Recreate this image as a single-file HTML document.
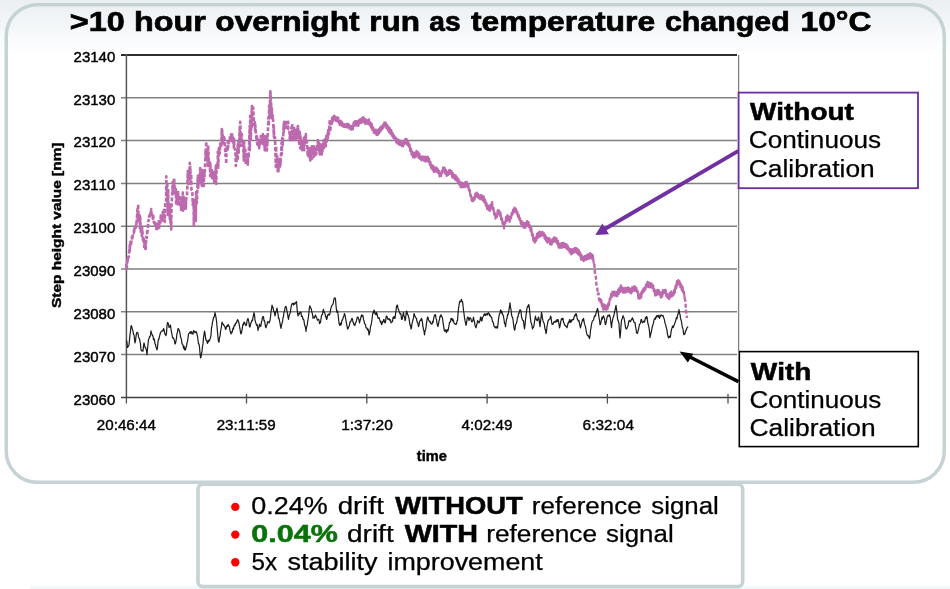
<!DOCTYPE html>
<html><head><meta charset="utf-8">
<style>
html,body{margin:0;padding:0;}
body{width:950px;height:589px;overflow:hidden;position:relative;background:#fff;}
svg{position:absolute;left:0;top:0;will-change:transform;}
text{font-family:"Liberation Sans",sans-serif;font-kerning:none;}
</style></head><body>
<svg width="950" height="589" viewBox="0 0 950 589">
<defs>
<linearGradient id="bg" x1="0" y1="0" x2="0" y2="1">
<stop offset="0" stop-color="#eaeff2"/>
<stop offset="0.45" stop-color="#f3f6f8"/>
<stop offset="1" stop-color="#ffffff"/>
</linearGradient>
</defs>
<rect x="0" y="0" width="950" height="589" fill="#fff"/>
<rect x="0" y="0" width="950" height="54" fill="url(#bg)"/>
<rect x="30" y="585.5" width="920" height="3.5" fill="#f2f9fb"/>
<!-- main rounded box -->
<rect x="6.25" y="4.75" width="938" height="477.5" rx="31" ry="31" fill="none" stroke="#c6d3d5" stroke-width="3.5"/>
<!-- bottom box -->
<rect x="198" y="484.1" width="544.7" height="102.5" rx="5" ry="5" fill="#fff" stroke="#c6d3d5" stroke-width="3.6"/>

<!-- title -->
<text x="69.74" y="31.40" font-size="28" font-weight="bold" textLength="54.92" lengthAdjust="spacingAndGlyphs" stroke="#000" stroke-width="0.7">&gt;10</text>
<text x="133.95" y="31.40" font-size="28" font-weight="bold" textLength="71.84" lengthAdjust="spacingAndGlyphs" stroke="#000" stroke-width="0.7">hour</text>
<text x="215.37" y="31.40" font-size="28" font-weight="bold" textLength="144.20" lengthAdjust="spacingAndGlyphs" stroke="#000" stroke-width="0.7">overnight</text>
<text x="369.28" y="31.40" font-size="28" font-weight="bold" textLength="50.66" lengthAdjust="spacingAndGlyphs" stroke="#000" stroke-width="0.7">run</text>
<text x="429.30" y="31.40" font-size="28" font-weight="bold" textLength="31.27" lengthAdjust="spacingAndGlyphs" stroke="#000" stroke-width="0.7">as</text>
<text x="471.00" y="31.40" font-size="28" font-weight="bold" textLength="184.15" lengthAdjust="spacingAndGlyphs" stroke="#000" stroke-width="0.7">temperature</text>
<text x="664.92" y="31.40" font-size="28" font-weight="bold" textLength="124.88" lengthAdjust="spacingAndGlyphs" stroke="#000" stroke-width="0.7">changed</text>
<text x="800.57" y="31.40" font-size="28" font-weight="bold" textLength="70.88" lengthAdjust="spacingAndGlyphs" stroke="#000" stroke-width="0.7">10°C</text>

<!-- plot area -->
<rect x="126.5" y="55" width="612" height="342.4" fill="#fff"/>
<g stroke="#808080" stroke-width="1.5" fill="none">
<path d="M121 97.8H737 M121 140.6H737 M121 183.4H737 M121 226.2H737 M121 269H737 M121 311.8H737 M121 354.6H737"/>
</g>
<path d="M738.6 55V351" stroke="#808080" stroke-width="1.3" fill="none"/>
<path d="M121 55H737" stroke="#2e2e2e" stroke-width="2" fill="none"/>
<path d="M126.4 54V397.5" stroke="#555" stroke-width="1.5" fill="none"/>
<path d="M121 397.5H737" stroke="#404040" stroke-width="1.5" fill="none"/>
<path d="M126.4 397.5V403.6 M246.5 394V403.6 M366.8 394V403.6 M487.1 394V403.6 M607.4 394V403.6 M728 394V403.6" stroke="#505050" stroke-width="1.3" fill="none"/>

<!-- y labels -->
<g font-size="15" fill="#000" text-anchor="end" stroke="#000" stroke-width="0.45">
<text x="115.3" y="61.6">23140</text>
<text x="115.3" y="104.5">23130</text>
<text x="115.3" y="147.4">23120</text>
<text x="115.3" y="190.4">23110</text>
<text x="115.3" y="233.3">23100</text>
<text x="115.3" y="276.3">23090</text>
<text x="115.3" y="319.3">23080</text>
<text x="115.3" y="362.2">23070</text>
<text x="115.3" y="405.2">23060</text>
</g>
<!-- x labels -->
<g fill="#000" stroke="#000" stroke-width="0.4">
<text x="96.80" y="429.60" font-size="15" textLength="59.05" lengthAdjust="spacingAndGlyphs">20:46:44</text>
<text x="216.70" y="429.60" font-size="15" textLength="58.95" lengthAdjust="spacingAndGlyphs">23:11:59</text>
<text x="341.17" y="429.60" font-size="15" textLength="51.69" lengthAdjust="spacingAndGlyphs">1:37:20</text>
<text x="461.60" y="429.60" font-size="15" textLength="50.85" lengthAdjust="spacingAndGlyphs">4:02:49</text>
<text x="582.60" y="429.60" font-size="15" textLength="51.35" lengthAdjust="spacingAndGlyphs">6:32:04</text>
<text x="416.80" y="460.50" font-size="14.5" font-weight="bold" textLength="30.06" lengthAdjust="spacingAndGlyphs">time</text>
<g transform="translate(60.7 0) rotate(-90)"><text x="-308.00" y="0.00" font-size="12.5" font-weight="bold" textLength="165.50" lengthAdjust="spacingAndGlyphs">Step height value [nm]</text></g>
</g>

<!-- series -->
<path d="M126.3 263.7 L126.7 269.5 L127.6 257.7 L127.8 261.5 L128.2 254.8 L128.7 257.5 L129.8 244.8 L129.8 250.9 L130.2 242.1 L130.9 245.8 L131.8 237.1 L132.2 239.9 L133.1 232.7 L133.8 232.9 L134.2 228.1 L134.2 231.9 L135.3 224.7 L135.8 227.6 L136.2 222.7 L136.4 225.5 L137.5 208.9 L137.8 221.9 L138.2 204.1 L138.6 222 L139.7 215.4 L139.8 227.9 L140.2 217.1 L140.8 231.7 L141.9 228.6 L141.8 237.9 L142.2 228.1 L143 240.5 L143.8 238.7 L144.2 246.9 L144.1 239.2 L145.2 248.9 L145.3 242.1 L145.7 249.9 L146.3 236.9 L146.8 237.9 L147.2 230.1 L147.4 232.7 L148.5 220 L148.8 220.5 L149.2 215.6 L149.6 218.3 L150.7 211.5 L150.8 214.9 L151.2 209.1 L151.8 216.4 L152.9 216 L152.8 218.9 L153.2 215.6 L154 222.9 L154.8 221.1 L155.2 227.6 L155.1 221.5 L156.2 229 L156.8 224.5 L157.2 230.3 L157.3 224.4 L158.4 227.1 L158.8 221.1 L159.2 227.6 L159.5 220 L160.6 222.4 L160.8 215.6 L161.2 222.3 L161.7 215.5 L162.8 219.9 L162.8 212.1 L163.2 220.5 L163.9 209.8 L164.8 221.9 L165.2 203.1 L166.1 202.3 L166.3 176.4 L166.7 195.6 L167.2 182.6 L167.8 214.9 L168.2 188.9 L168.3 214.3 L169.4 204.1 L169.8 218.9 L170.2 206.7 L170.5 222.8 L170.8 215.6 L171.2 229.4 L171.6 203.1 L172.3 193.9 L172.7 181.8 L172.7 191.6 L173.8 179.9 L173.8 189.9 L174.2 178.1 L174.9 195.5 L175.8 188.9 L176.2 204.5 L177.1 193.4 L177.8 204.5 L178.2 192.1 L178.2 202.7 L179.3 195.3 L180.4 207.1 L180.8 197.8 L181.2 209.9 L181.5 198.3 L182.6 206.8 L182.8 192.5 L183.2 210.7 L183.7 196.9 L184.8 208.5 L185.9 200.9 L185.8 208.7 L186.2 198.6 L187 196 L187.8 171.1 L188.2 183.9 L188.1 172 L189.2 178.6 L189.8 162.9 L190.2 179.9 L190.3 166.8 L190.8 185.9 L191.2 174.1 L191.4 189.4 L192.3 190.5 L192.7 204.6 L193.6 199.7 L193.8 226.9 L194.2 202.7 L194.7 220.5 L195.8 198.6 L195.8 220.9 L196.2 192.1 L196.9 203 L197.8 176.1 L198.2 187.9 L199.1 174.8 L199.8 183.9 L200.2 168.1 L200.2 182.9 L201.3 172.1 L201.8 185.9 L202.2 170.1 L202.4 183.6 L203.5 173.7 L203.8 185.9 L204.2 172.1 L204.6 176.3 L205.7 149.8 L205.8 159.7 L206.2 141.5 L206.8 157.7 L207.9 147.8 L207.8 165.9 L208.2 145.6 L209 168.1 L209.8 161.9 L210.2 175.9 L210.1 162.5 L211.2 176.3 L211.8 170.1 L212.2 179.9 L212.3 172 L213.4 178.9 L213.8 172.1 L214.2 181.9 L214.5 173 L215.6 182.3 L215.8 166.1 L216.2 183.9 L216.7 162.7 L217.8 166.8 L217.8 151.7 L218.2 167.9 L218.9 148.1 L219.8 153.6 L220.2 143.5 L221.1 147.5 L221.8 129.1 L222.2 145.4 L222.2 130.4 L223.3 142.5 L223.8 135.4 L224.2 141.3 L224.4 138.4 L225.5 155.9 L225.8 149.7 L226.2 163.9 L226.6 147.6 L227.7 149.5 L227.8 141.5 L228.2 147.5 L228.8 139.6 L229.9 140.3 L229.8 135.4 L230.2 141.3 L231 134.4 L231.8 141.3 L232.2 133.1 L232.1 140.7 L233.2 137.8 L233.8 147.5 L234.2 139.1 L234.3 148.2 L235.4 150.5 L235.8 165.9 L236.2 151.7 L236.5 161.3 L237.6 145.2 L237.8 160.5 L238.2 142.1 L238.7 153.4 L239.8 126 L239.8 146.2 L240.2 121.9 L240.9 141.9 L241.8 134.1 L242.2 145.9 L243.1 142.2 L243.8 160.5 L244.2 142.1 L244.2 160.2 L245.3 149.5 L245.8 164.6 L246.2 152.5 L246.4 163.9 L247.5 153.2 L247.8 164.6 L248.2 152.5 L248.6 158 L249.7 125.9 L249.8 150.3 L250.2 115.8 L250.8 139.4 L251.9 106.1 L251.8 127.9 L252.2 105.6 L252.8 119.7 L253.2 107.6 L254.1 125.3 L254.8 121.9 L255.2 131.9 L255.2 124.2 L256.3 138.7 L256.8 136.1 L257.2 144.2 L257.4 138.8 L258.5 145.9 L258.8 140.1 L259.2 148.3 L259.6 140 L260.7 143.6 L260.8 136.1 L261.2 144.2 L261.8 136.8 L262.9 144.1 L262.8 134.1 L263.2 144.2 L264 137.8 L264.8 150.3 L265.2 136.1 L265.1 147.6 L266.2 140.4 L266.8 152.4 L267.2 138.1 L267.3 145.4 L268.4 117.2 L268.8 125.9 L269.2 105.6 L269.5 117.9 L270.3 91.3 L270.7 107.5 L270.6 92.8 L271.7 115.2 L271.8 107.6 L272.2 119.7 L272.8 115.2 L273.9 136.8 L273.8 126.1 L274.2 137.9 L275 137.1 L275.8 166.7 L276.2 146.4 L276.1 166.2 L277.2 156.3 L277.8 172.9 L278.2 160.7 L278.3 172.1 L279.4 159.3 L279.8 168.7 L280.2 158.7 L280.5 164.7 L281.6 142.6 L281.8 154.4 L282.2 138.1 L282.7 145.2 L283.8 123.6 L283.8 131.9 L284.2 121.9 L284.9 128.1 L285.8 119.9 L286.2 127.9 L287.1 122.1 L287.8 127.9 L288.2 121.9 L288.2 128.9 L289.3 129 L289.8 139.9 L290.2 132.1 L290.4 139.5 L291.5 127.4 L291.8 142.2 L292.2 124 L292.6 141 L293.7 130.2 L293.8 139.9 L294.2 128.1 L294.8 137.2 L295.9 131.2 L295.8 139.9 L296.2 130.1 L297 137.6 L297.8 126.1 L298.2 137.9 L298.1 126.7 L299.2 143.8 L299.8 132.1 L300.2 148.3 L300.3 134.9 L301.4 149 L301.8 142.1 L302.2 150.3 L302.5 143 L303.6 149.8 L303.8 138.1 L304.2 150.3 L304.7 136.8 L305.8 142.4 L305.8 134.1 L306.2 144.2 L306.9 141 L307.8 156.5 L308.2 146.4 L309.1 158.3 L309.8 148.4 L310.2 160.5 L310.2 149.8 L311.3 159.1 L311.8 146.4 L312.2 158.5 L312.4 147.9 L313.5 154.4 L313.8 146.4 L314.2 156.5 L314.6 148.4 L315.7 153.3 L315.8 146.4 L316.2 154.4 L316.8 144.5 L317.9 149.6 L317.8 140.1 L318.2 150.3 L319 142.7 L319.8 154.4 L320.2 144.4 L320.1 152.5 L321.2 145.7 L321.8 154.4 L322.2 144.4 L322.3 151.6 L323.4 142.1 L323.8 148.3 L324.2 140.1 L324.5 147.3 L325.6 138.9 L325.8 146.2 L326.2 136.1 L326.7 141.5 L327.8 132.8 L327.8 139.9 L328.2 130.1 L328.9 134.1 L329.8 119.9 L330.2 131.9 L331.1 120.5 L331.8 123.9 L332.2 117.8 L332.2 122.4 L333.3 116.8 L333.8 119.7 L334.2 115.8 L334.4 119.4 L335.5 116.9 L335.8 120.7 L336.2 116.8 L336.6 121 L337.7 117.7 L337.8 121.9 L338.2 117.8 L338.8 122.8 L339.9 121 L339.8 124.9 L340.2 120.9 L341 124.7 L341.8 121.9 L342.2 125.9 L342.1 122.9 L343.2 126.1 L343.8 122.9 L344.2 126.9 L344.3 123.8 L345.4 125.9 L345.8 122.9 L346.2 126.9 L346.5 124.1 L347.6 127.3 L347.8 124 L348.2 127.9 L348.7 124.6 L349.8 128.6 L349.8 125.1 L350.2 128.9" fill="none" stroke="#bd69ad" stroke-width="2.6" stroke-dasharray="4 1.8" stroke-linejoin="round"/>
<path d="M350.2 128.9 L350.7 125.8 L351.4 129.8 L352.1 126 L352.8 129.4 L353.5 122.5 L354.2 126 L354.9 121 L355.6 125.3 L356.3 121.1 L357 125.6 L357.7 121.1 L358.4 125.9 L359.1 119.9 L359.8 123.4 L360.5 119 L361.2 122.9 L361.9 118.1 L362.6 122.2 L363.3 117 L364 122.3 L364.7 118.9 L365.4 124.2 L366.1 119.6 L366.8 123.7 L367.5 120.3 L368.2 123.7 L368.9 119.3 L369.6 125.4 L370.3 122.3 L371 127.6 L371.7 123.6 L372.4 130.2 L373.1 127.2 L373.8 132.8 L374.5 129.7 L375.2 133.3 L375.9 129.5 L376.6 135.1 L377.3 130.5 L378 134.7 L378.7 129.2 L379.4 133.2 L380.1 127.3 L380.8 130.8 L381.5 126.4 L382.2 129.3 L382.9 124.8 L383.6 127.7 L384.3 122.4 L385 125 L385.7 122.6 L386.4 128.2 L387.1 124.9 L387.8 130.2 L388.5 126.7 L389.2 132.4 L389.9 128.4 L390.6 133.8 L391.3 130 L392 135.9 L392.7 133.1 L393.4 138 L394.1 135.2 L394.8 139.8 L395.5 137.4 L396.2 142.3 L396.9 138.9 L397.6 143.6 L398.3 139.7 L399 144.6 L399.7 140.6 L400.4 145 L401.1 140.9 L401.8 146.1 L402.5 142.5 L403.2 146.4 L403.9 141.3 L404.6 144 L405.3 138.9 L406 143.3 L406.7 139 L407.4 144.9 L408.1 140.8 L408.8 146.7 L409.5 144.2 L410.2 150.8 L410.9 148.5 L411.6 154.6 L412.3 151.5 L413 157.2 L413.7 152.9 L414.4 157.7 L415.1 152.5 L415.8 156.8 L416.5 150.8 L417.2 155.1 L417.9 152 L418.6 158 L419.3 153.6 L420 158.8 L420.7 156.4 L421.4 160.4 L422.1 156.5 L422.8 159.7 L423.5 156.6 L424.2 161 L424.9 156.6 L425.6 161.7 L426.3 157.1 L427 161.1 L427.7 156.5 L428.4 161.7 L429.1 158.5 L429.8 165 L430.5 162 L431.2 168.2 L431.9 165 L432.6 170.1 L433.3 165.9 L434 172 L434.7 167.7 L435.4 171.5 L436.1 167.3 L436.8 171.9 L437.5 168.6 L438.2 173.2 L438.9 170.7 L439.6 176.5 L440.3 173.3 L441 176.1 L441.7 171.1 L442.4 173.1 L443.1 167.5 L443.8 170.6 L444.5 167.6 L445.2 173.6 L445.9 169.9 L446.6 176 L447.3 172.2 L448 175 L448.7 170.4 L449.4 174 L450.1 169.9 L450.8 173.6 L451.5 171 L452.2 177.1 L452.9 173.2 L453.6 178.1 L454.3 174.8 L455 179.5 L455.7 175.3 L456.4 180.7 L457.1 177.4 L457.8 181.8 L458.5 179 L459.2 184.5 L459.9 181.9 L460.6 187.2 L461.3 182.6 L462 187.2 L462.7 182.8 L463.4 187.2 L464.1 183.3 L464.8 187.1 L465.5 181.9 L466.2 185.7 L466.9 182 L467.6 187.4 L468.3 184.4 L469 190.7 L469.7 189.6 L470.4 196.2 L471.1 195.2 L471.8 200.9 L472.5 198.2 L473.2 201.2 L473.9 197.3 L474.6 199.7 L475.3 193.6 L476 196.3 L476.7 192.7 L477.4 197.1 L478.1 193.9 L478.8 198.1 L479.5 195.5 L480.2 199.2 L480.9 195 L481.6 199.4 L482.3 195.7 L483 200.6 L483.7 196.7 L484.4 202.4 L485.1 199.6 L485.8 205.7 L486.5 202.9 L487.2 209 L487.9 205.8 L488.6 210.2 L489.3 205.6 L490 210.8 L490.7 204.7 L491.4 207.8 L492.1 202 L492.8 209.5 L493.5 208 L494.2 214.6 L494.9 213.2 L495.6 218.6 L496.3 215.5 L497 216.9 L497.7 210 L498.4 213 L499.1 210.6 L499.8 215.7 L500.5 212.5 L501.2 219.9 L501.9 218 L502.6 223.8 L503.3 222.3 L504 228.4 L504.7 222 L505.4 223.1 L506.1 216.9 L506.8 221 L507.5 215.1 L508.2 219.9 L508.9 216.6 L509.6 221.9 L510.3 216.7 L511 218.4 L511.7 212.8 L512.4 214.7 L513.1 209.5 L513.8 212.6 L514.5 207.6 L515.2 211.1 L515.9 208.8 L516.6 213.5 L517.3 211.6 L518 216.8 L518.7 214.9 L519.4 219.7 L520.1 218.2 L520.8 223.9 L521.5 221 L522.2 226.4 L522.9 222.7 L523.6 227.7 L524.3 222.9 L525 227.9 L525.7 222.8 L526.4 226.3 L527.1 221.2 L527.8 225.9 L528.5 222 L529.2 227.4 L529.9 225.2 L530.6 230.9 L531.3 227.9 L532 235.7 L532.7 233.8 L533.4 240.7 L534.1 237.7 L534.8 242.7 L535.5 237.5 L536.2 240.6 L536.9 233.8 L537.6 238.1 L538.3 232.5 L539 236.8 L539.7 231.7 L540.4 236.5 L541.1 232.3 L541.8 235.4 L542.5 231.9 L543.2 235.7 L543.9 233.3 L544.6 238.7 L545.3 235.1 L546 240.8 L546.7 237.4 L547.4 242.6 L548.1 238.1 L548.8 241.7 L549.5 238.4 L550.2 244.4 L550.9 240.7 L551.6 244.6 L552.3 239.3 L553 242.5 L553.7 237.7 L554.4 241.3 L555.1 237.3 L555.8 241.8 L556.5 238.5 L557.2 243.8 L557.9 240.9 L558.6 247.6 L559.3 243.5 L560 247.6 L560.7 243.5 L561.4 247.9 L562.1 242.8 L562.8 247.4 L563.5 242.8 L564.2 247 L564.9 243.9 L565.6 247.9 L566.3 244 L567 248.9 L567.7 245.7 L568.4 250.4 L569.1 248.2 L569.8 252.5 L570.5 249.1 L571.2 254.3 L571.9 249.4 L572.6 253.4 L573.3 249 L574 252.7 L574.7 247.9 L575.4 251.8 L576.1 248 L576.8 253 L577.5 248.8 L578.2 254.5 L578.9 250.4 L579.6 255.5 L580.3 252.5 L581 259.5 L581.7 255.4 L582.4 260.2 L583.1 257.2 L583.8 261.1 L584.5 256.1 L585.2 259.8 L585.9 255.8 L586.6 259.7 L587.3 254.6 L588 258.8 L588.7 254.3 L589.4 258.6 L590.1 253.2 L590.8 257.8 L591.5 254 L592.2 259.2 L592.9 255.3 L593.6 262.7 L594.3 263.9 M600.6 303.4 L601.3 300.1 L602 306.3 L602.7 303.9 L603.4 309.8 L604.1 304.6 L604.8 308.9 L605.5 305.4 L606.2 309.9 L606.9 305.6 L607.6 309.2 L608.3 303.2 L609 305.4 L609.7 298.7 L610.4 299.5 L611.1 293.8 L611.8 297 L612.5 291.5 L613.2 295.5 L613.9 291.5 L614.6 295.6 L615.3 291.9 L616 295.8 L616.7 292.1 L617.4 296.2 L618.1 289.7 L618.8 293.9 L619.5 287.9 L620.2 291.9 L620.9 285.4 L621.6 291.1 L622.3 287.5 L623 292.6 L623.7 288.3 L624.4 292.6 L625.1 287.8 L625.8 292.5 L626.5 288.2 L627.2 291.6 L627.9 287.3 L628.6 291.7 L629.3 288.1 L630 292.6 L630.7 289.2 L631.4 293.3 L632.1 287.4 L632.8 291.2 L633.5 286.7 L634.2 290.7 L634.9 286.3 L635.6 291 L636.3 287.8 L637 291.7 L637.7 291 L638.4 298.3 L639.1 295.7 L639.8 298.7 L640.5 293.3 L641.2 297.6 L641.9 291.1 L642.6 293.2 L643.3 288.6 L644 291.5 L644.7 287.5 L645.4 289.7 L646.1 284.4 L646.8 286.2 L647.5 281.9 L648.2 287.2 L648.9 282.6 L649.6 287.1 L650.3 283.1 L651 287.3 L651.7 283.6 L652.4 288 L653.1 285.3 L653.8 291.4 L654.5 289.4 L655.2 295.5 L655.9 291.2 L656.6 295.2 L657.3 289.9 L658 294.1 L658.7 290.2 L659.4 294.6 L660.1 292.2 L660.8 297.7 L661.5 292.4 L662.2 296.6 L662.9 290.1 L663.6 293.5 L664.3 289.8 L665 293 L665.7 289.8 L666.4 296.5 L667.1 293.8 L667.8 297.8 L668.5 294.5 L669.2 299.1 L669.9 292.9 L670.6 297.2 L671.3 291.3 L672 296.2 L672.7 293 L673.4 295.5 L674.1 289.9 L674.8 292.9 L675.5 285.6 L676.2 288.3 L676.9 281.1 L677.6 285.1 L678.3 280 L679 283.7 L679.7 281.5 L680.4 287.2 L681.1 284.4 L681.8 290.3 L682.5 286.7 L683.2 292.6 L683.9 291.7 L684.6 297.8" fill="none" stroke="#bd69ad" stroke-width="2.2" stroke-linejoin="round"/>
<path d="M594.3 263.9 L595 273.3 L595.7 275.2 L596.4 284.5 L597.1 286.3 L597.8 294.2 L598.5 293.2 L599.2 300.3 L599.9 297.8 L600.6 303.4 M684.6 297.8 L685.3 300.7 L686 311.7 L686.7 314.4 L686.9 318" fill="none" stroke="#bd69ad" stroke-width="2.4" stroke-dasharray="4 2" stroke-linejoin="round"/>
<path d="M126.5 340.4 L127 342.5 L127.5 347.5 L128 346.7 L128.5 346.1 L129 345 L129.5 339.9 L130 334.6 L130.5 331.1 L131 326 L131.5 325.6 L132 327.8 L132.5 329.7 L133 331.2 L133.5 334.5 L134 334.5 L134.5 339.1 L135 342.8 L135.5 340.9 L136 336.4 L136.5 333.3 L137 332.4 L137.5 332.4 L138 333.3 L138.5 336.9 L139 338.1 L139.5 338.9 L140 341.6 L140.5 344.2 L141 350 L141.5 350.2 L142 351.1 L142.5 350.5 L143 351 L143.5 346.1 L144 342.8 L144.5 344.9 L145 347.4 L145.5 347.5 L146 349 L146.5 350.7 L147 354.7 L147.5 349 L148 344.1 L148.5 339.2 L149 339 L149.5 336.6 L150 336.8 L150.5 334.9 L151 330.9 L151.5 333.3 L152 334.1 L152.5 335.7 L153 335.9 L153.5 339.6 L154 338.6 L154.5 340.4 L155 343.9 L155.5 344.2 L156 347.5 L156.5 347.8 L157 350 L157.5 347.3 L158 342.1 L158.5 339.2 L159 339.2 L159.5 336.1 L160 334.5 L160.5 332.5 L161 331.8 L161.5 331.5 L162 330.9 L162.5 330.7 L163 330.8 L163.5 328.5 L164 329.3 L164.5 332.1 L165 334.5 L165.5 334.1 L166 335.7 L166.5 332.9 L167 325.7 L167.5 322.6 L168 322.6 L168.5 324.2 L169 327.3 L169.5 326.2 L170 327.1 L170.5 325 L171 329.5 L171.5 332.1 L172 334.5 L172.5 337.4 L173 338.3 L173.5 338 L174 339.4 L174.5 340.9 L175 344 L175.5 343.5 L176 340.8 L176.5 338 L177 333.2 L177.5 332.2 L178 328.5 L178.5 328.9 L179 329.7 L179.5 331 L180 333.3 L180.5 336.8 L181 338.1 L181.5 339.9 L182 344 L182.5 344.1 L183 345.2 L183.5 348.1 L184 346.1 L184.5 349.9 L185 348.1 L185.5 350 L186 347.1 L186.5 346.3 L187 342.8 L187.5 341.5 L188 337.8 L188.5 334.1 L189 333.3 L189.5 332.8 L190 332 L190.5 333.4 L191 331.5 L191.5 331.7 L192 334 L192.5 332.9 L193 334.1 L193.5 330.6 L194 331.6 L194.5 331.3 L195 332.7 L195.5 332.5 L196 331.6 L196.5 332.1 L197 334.2 L197.5 336.4 L198 340 L198.5 343.8 L199 343.8 L199.5 347 L200 353.2 L200.5 357.8 L201 357.2 L201.5 353.3 L202 351.8 L202.5 346.3 L203 343.9 L203.5 337.6 L204 334.7 L204.5 331 L205 333.2 L205.5 337.7 L206 340 L206.5 340.5 L207 341.6 L207.5 343.5 L208 340.6 L208.5 342 L209 340 L209.5 340.6 L210 338.9 L210.5 337.6 L211 335.1 L211.5 328 L212 325.7 L212.5 322 L213 320.1 L213.5 317.4 L214 317.4 L214.5 315.7 L215 312.6 L215.5 315 L216 317.4 L216.5 321 L217 326.3 L217.5 332 L218 337.6 L218.5 341.4 L219 342.3 L219.5 337.7 L220 336.2 L220.5 331.6 L221 329.2 L221.5 326.3 L222 322 L222.5 323.9 L223 324.2 L223.5 324.2 L224 325.7 L224.5 326 L225 327 L225.5 329.3 L226 329.2 L226.5 326.6 L227 325.8 L227.5 326.5 L228 324.5 L228.5 325.1 L229 326 L229.5 327.3 L230 330.4 L230.5 332.4 L231 334 L231.5 331.9 L232 332.6 L232.5 330.8 L233 328 L233.5 329.1 L234 326.1 L234.5 324.9 L235 325.7 L235.5 323.1 L236 323.3 L236.5 322.8 L237 320.7 L237.5 319.7 L238 320 L238.5 321.8 L239 323.3 L239.5 326.4 L240 329.2 L240.5 332.2 L241 334 L241.5 332.8 L242 329.8 L242.5 326.9 L243 324 L243.5 324.8 L244 322 L244.5 322.2 L245 324.1 L245.5 324.3 L246 325.7 L246.5 324.7 L247 321.1 L247.5 319.4 L248 318.5 L248.5 320.4 L249 322.9 L249.5 326.9 L250 327 L250.5 324.7 L251 322.6 L251.5 322 L252 320.1 L252.5 320.6 L253 317.4 L253.5 315 L254 312.6 L254.5 314.8 L255 319.9 L255.5 322 L256 323.4 L256.5 325.3 L257 324.5 L257.5 326.1 L258 330.4 L258.5 328.2 L259 327.4 L259.5 324.2 L260 325.8 L260.5 326.4 L261 325.4 L261.5 321.6 L262 320.2 L262.5 317.4 L263 316.5 L263.5 316.8 L264 320.9 L264.5 320.7 L265 323.3 L265.5 326.9 L266 327.8 L266.5 325.4 L267 325.1 L267.5 321.9 L268 322.1 L268.5 321.8 L269 323 L269.5 321.9 L270 320.5 L270.5 317 L271 311.7 L271.5 309.5 L272 305.2 L272.5 307.2 L273 307.4 L273.5 310 L274 311.6 L274.5 312.8 L275 316 L275.5 313 L276 311.3 L276.5 310.5 L277 308.2 L277.5 312.1 L278 313.9 L278.5 318.3 L279 318.2 L279.5 320.8 L280 323 L280.5 326.3 L281 328.4 L281.5 325.2 L282 323.4 L282.5 321.9 L283 317.7 L283.5 316.5 L284 312.3 L284.5 311 L285 307.9 L285.5 306.5 L286 306.4 L286.5 308.4 L287 311.3 L287.5 313.5 L288 317 L288.5 319.5 L289 316.1 L289.5 314.4 L290 313.5 L290.5 311.4 L291 307.7 L291.5 305.2 L292 303.9 L292.5 303.3 L293 303.4 L293.5 305.1 L294 303.1 L294.5 304.1 L295 304 L295.5 302.7 L296 302.1 L296.5 301.6 L297 307.6 L297.5 312.9 L298 316 L298.5 314.6 L299 313.1 L299.5 314 L300 312.3 L300.5 312.2 L301 312.5 L301.5 316.4 L302 316 L302.5 316.9 L303 319.4 L303.5 319.2 L304 320.7 L304.5 324.7 L305 325.9 L305.5 327.6 L306 331.4 L306.5 327 L307 326 L307.5 323 L308 319.5 L308.5 316.5 L309 311.2 L309.5 307.1 L310 305.8 L310.5 307.6 L311 308.2 L311.5 310 L312 312.8 L312.5 314.3 L313 318.3 L313.5 317 L314 317.2 L314.5 318 L315 316 L315.5 315 L316 316.6 L316.5 317 L317 318.9 L317.5 320.3 L318 319.5 L318.5 319.3 L319 320 L319.5 323.6 L320 323 L320.5 322.5 L321 318.8 L321.5 315.3 L322 314.7 L322.5 314.4 L323 310.8 L323.5 309.4 L324 312.1 L324.5 312.5 L325 313.5 L325.5 316.6 L326 316.3 L326.5 319.5 L327 318.9 L327.5 315.4 L328 314.7 L328.5 314.1 L329 315.3 L329.5 314.9 L330 313.5 L330.5 310.1 L331 307.8 L331.5 306.4 L332 305.3 L332.5 304.9 L333 304 L333.5 301.6 L334 298.7 L334.5 298 L335 297.8 L335.5 299.3 L336 305.4 L336.5 310 L337 312.5 L337.5 310.8 L338 313.5 L338.5 318.5 L339 323 L339.5 325.1 L340 325.4 L340.5 323 L341 324.9 L341.5 323 L342 320.1 L342.5 320.2 L343 318.3 L343.5 316.9 L344 315.5 L344.5 313.5 L345 315.2 L345.5 318 L346 320.7 L346.5 323.7 L347 326 L347.5 329 L348 328.7 L348.5 327.2 L349 326.6 L349.5 324.8 L350 321.8 L350.5 321.9 L351 321.1 L351.5 319.5 L352 318.3 L352.5 319 L353 322.3 L353.5 323 L354 324.8 L354.5 324.5 L355 325.4 L355.5 322.7 L356 322.2 L356.5 320.7 L357 318.1 L357.5 317 L358 317 L358.5 318.8 L359 319.6 L359.5 323 L360 320.8 L360.5 319 L361 317 L361.5 314.9 L362 316.3 L362.5 315.3 L363 315.7 L363.5 319.7 L364 320.7 L364.5 323.4 L365 324.3 L365.5 324.5 L366 327.8 L366.5 328.1 L367 328 L367.5 330.2 L368 329 L368.5 330.8 L369 335 L369.5 333.4 L370 331.1 L370.5 326.6 L371 325 L371.5 322.9 L372 319.5 L372.5 314.9 L373 312.3 L373.5 312.8 L374 310 L374.5 311.1 L375 313.9 L375.5 313.5 L376 314.9 L376.5 312.4 L377 313.5 L377.5 316.1 L378 318.2 L378.5 318.3 L379 317.6 L379.5 319.4 L380 320.7 L380.5 322.4 L381 321.3 L381.5 324.7 L382 324.2 L382.5 321.9 L383 322.1 L383.5 319.5 L384 319.5 L384.5 321.8 L385 323 L385.5 322.1 L386 317.3 L386.5 316 L387 316.4 L387.5 318.4 L388 319.5 L388.5 319.2 L389 318.5 L389.5 319.3 L390 320.7 L390.5 319.8 L391 322.8 L391.5 322.2 L392 321.9 L392.5 321.6 L393 317.5 L393.5 317 L394 318.4 L394.5 316.6 L395 318.3 L395.5 314.4 L396 310.8 L396.5 306.4 L397 305.3 L397.5 305.2 L398 308.5 L398.5 309.4 L399 311.2 L399.5 312.2 L400 314 L400.5 313.5 L401 314.2 L401.5 319.2 L402 319.5 L402.5 317.5 L403 314.3 L403.5 312.3 L404 316.1 L404.5 317.1 L405 320.7 L405.5 319.2 L406 314.6 L406.5 311.2 L407 311.9 L407.5 314.4 L408 314.7 L408.5 316.9 L409 318.4 L409.5 321.9 L410 325.1 L410.5 325.1 L411 329 L411.5 327.7 L412 323.4 L412.5 321.9 L413 319.6 L413.5 317.9 L414 313.5 L414.5 315 L415 316.4 L415.5 317 L416 318 L416.5 318.6 L417 321.9 L417.5 321.9 L418 323.8 L418.5 326.6 L419 325 L419.5 322.4 L420 320.7 L420.5 319.9 L421 320.4 L421.5 318.3 L422 319.8 L422.5 322.9 L423 326.6 L423.5 329.9 L424 330.6 L424.5 335 L425 330.9 L425.5 329.7 L426 327.8 L426.5 322.9 L427 320.1 L427.5 317 L428 317.3 L428.5 319.8 L429 320.7 L429.5 321.8 L430 321.2 L430.5 323 L431 323.8 L431.5 323.7 L432 324.2 L432.5 321.4 L433 322.6 L433.5 319.5 L434 317 L434.5 315.1 L435 314.7 L435.5 314.9 L436 318.4 L436.5 319.5 L437 323.1 L437.5 325.2 L438 326.6 L438.5 323.9 L439 321.1 L439.5 319.5 L440 316.2 L440.5 316.8 L441 314.7 L441.5 316.1 L442 316.6 L442.5 318.3 L443 322.4 L443.5 325.2 L444 329 L444.5 331.1 L445 331 L445.5 329.9 L446 331.4 L446.5 332.6 L447 329.5 L447.5 331.1 L448 330.8 L448.5 328.3 L449 325.5 L449.5 322.6 L450 321.9 L450.5 321.9 L451 318.4 L451.5 319.4 L452 318.3 L452.5 321 L453 319.4 L453.5 320.8 L454 323 L454.5 323.7 L455 323.6 L455.5 324.4 L456 324.2 L456.5 324.1 L457 320.8 L457.5 320.7 L458 314.1 L458.5 308.8 L459 305.5 L459.5 302.1 L460 301 L460.5 301.8 L461 300.8 L461.5 299.3 L462 302 L462.5 301.6 L463 305.2 L463.5 310.5 L464 313.5 L464.5 317.9 L465 320.7 L465.5 322.9 L466 325.4 L466.5 323.4 L467 319.6 L467.5 317 L468 317.3 L468.5 318.1 L469 320.7 L469.5 319 L470 317.5 L470.5 318.3 L471 318.9 L471.5 321.5 L472 321.9 L472.5 320.9 L473 319.8 L473.5 317 L474 320.5 L474.5 321.8 L475 325.4 L475.5 326.8 L476 327.8 L476.5 325.2 L477 324 L477.5 320.7 L478 321.5 L478.5 321.4 L479 323 L479.5 321.5 L480 320.6 L480.5 317 L481 317.3 L481.5 320.8 L482 320.7 L482.5 317.5 L483 316.8 L483.5 316 L484 314.3 L484.5 315.2 L485 313.5 L485.5 315.4 L486 315.1 L486.5 314.7 L487 313.5 L487.5 314.9 L488 313 L488.5 312.8 L489 313 L489.5 315.7 L490 314.7 L490.5 315.9 L491 316.9 L491.5 317 L492 319.2 L492.5 321.9 L493 321.9 L493.5 323.4 L494 326.2 L494.5 326.6 L495 327.3 L495.5 327.8 L496 326.6 L496.5 326.8 L497 328.2 L497.5 327.8 L498 324.1 L498.5 319.3 L499 316 L499.5 313.5 L500 313.4 L500.5 310.1 L501 310 L501.5 313 L502 311.9 L502.5 314.7 L503 314.7 L503.5 316.6 L504 319.5 L504.5 323.3 L505 323.7 L505.5 326.6 L506 322.6 L506.5 319.5 L507 318.3 L507.5 314.7 L508 315 L508.5 312.3 L509 309.6 L509.5 306.6 L510 302.8 L510.5 307.6 L511 309.3 L511.5 314.7 L512 316.6 L512.5 317.4 L513 319.5 L513.5 324.1 L514 327.7 L514.5 330.2 L515 329.5 L515.5 324.7 L516 324.2 L516.5 323.1 L517 320.8 L517.5 317 L518 317.3 L518.5 313.3 L519 313.5 L519.5 311.3 L520 309.8 L520.5 310 L521 311.2 L521.5 316.7 L522 318.3 L522.5 320.2 L523 320.4 L523.5 320.7 L524 326 L524.5 329 L525 325.1 L525.5 319.6 L526 316 L526.5 311.4 L527 308.2 L527.5 306.4 L528 306.9 L528.5 304.6 L529 305.2 L529.5 309.3 L530 314.7 L530.5 318.6 L531 323 L531.5 323.4 L532 326.2 L532.5 329 L533 327.1 L533.5 327.3 L534 325.4 L534.5 321.8 L535 318.5 L535.5 316 L536 319.1 L536.5 319.1 L537 320.7 L537.5 320.7 L538 318.6 L538.5 317 L539 318.6 L539.5 323.1 L540 326.6 L540.5 321.6 L541 318 L541.5 312.3 L542 314.6 L542.5 318.6 L543 320.7 L543.5 322.4 L544 322.9 L544.5 325.4 L545 329.4 L545.5 329.5 L546 333.7 L546.5 331.6 L547 326.2 L547.5 324.2 L548 320.9 L548.5 320.1 L549 319.5 L549.5 319.2 L550 318.8 L550.5 316 L551 317 L551.5 321.4 L552 324.2 L552.5 323.8 L553 324.4 L553.5 323 L554 321.6 L554.5 322.2 L555 321.9 L555.5 321 L556 322.2 L556.5 320.7 L557 319.5 L557.5 321.4 L558 319.5 L558.5 321.5 L559 324.1 L559.5 327.8 L560 326.1 L560.5 323.1 L561 320.7 L561.5 318.6 L562 319.6 L562.5 318.3 L563 318.4 L563.5 322.4 L564 323 L564.5 324.5 L565 325.6 L565.5 325.4 L566 326.6 L566.5 326.5 L567 327.8 L567.5 325.5 L568 323.5 L568.5 321.9 L569 322.8 L569.5 319.7 L570 320.7 L570.5 322.4 L571 319.9 L571.5 321.9 L572 320.1 L572.5 319.5 L573 319.5 L573.5 319.7 L574 317.2 L574.5 316 L575 314.8 L575.5 315.6 L576 313.5 L576.5 314.6 L577 317.4 L577.5 319.5 L578 320 L578.5 321.2 L579 320.7 L579.5 323.9 L580 325.9 L580.5 327.8 L581 325.3 L581.5 323.3 L582 321.9 L582.5 319.5 L583 320.7 L583.5 318.3 L584 321.2 L584.5 323.9 L585 325.4 L585.5 326.7 L586 330 L586.5 332.6 L587 334.7 L587.5 335.1 L588 336 L588.5 335.6 L589 337.5 L589.5 338.5 L590 336.2 L590.5 330.5 L591 327.8 L591.5 324.4 L592 322.4 L592.5 320.7 L593 320.5 L593.5 320.1 L594 318 L594.5 316.2 L595 315.5 L595.5 316 L596 313.2 L596.5 311.6 L597 310.3 L597.5 308.3 L598 310.2 L598.5 313.8 L599 317.5 L599.5 320 L600 324.6 L600.5 324.5 L601 322 L601.5 319.5 L602 317.1 L602.5 319.1 L603 316.5 L603.5 315.8 L604 317.4 L604.5 318.5 L605 323.2 L605.5 324.6 L606 323.2 L606.5 320.7 L607 317.5 L607.5 316.6 L608 315.1 L608.5 315.5 L609 316.3 L609.5 314.8 L610 316.5 L610.5 319.2 L611 323.6 L611.5 327.7 L612 322.7 L612.5 320.6 L613 317.5 L613.5 316.8 L614 314.8 L614.5 312.4 L615 310 L615.5 308.1 L616 305.3 L616.5 309.6 L617 312.9 L617.5 318.5 L618 320.6 L618.5 321.6 L619 323.6 L619.5 331.6 L620 337.9 L620.5 333.5 L621 326.1 L621.5 320.5 L622 319.1 L622.5 318 L623 315.5 L623.5 316.9 L624 317.9 L624.5 320.5 L625 324 L625.5 327.3 L626 328.7 L626.5 329 L627 328 L627.5 326.7 L628 325.8 L628.5 323.2 L629 320.5 L629.5 321.3 L630 321.1 L630.5 321.6 L631 319.9 L631.5 320 L632 318.5 L632.5 317.8 L633 319.6 L633.5 320.5 L634 322.2 L634.5 322.6 L635 322.6 L635.5 326.4 L636 328.6 L636.5 332.8 L637 332.8 L637.5 333.4 L638 331 L638.5 329.3 L639 326.6 L639.5 324.6 L640 323.8 L640.5 323 L641 319.8 L641.5 319.4 L642 321.7 L642.5 322.8 L643 322.5 L643.5 321.4 L644 321.1 L644.5 322.1 L645 319.8 L645.5 317.5 L646 318.5 L646.5 316.5 L647 317 L647.5 320.7 L648 324 L648.5 325.3 L649 328 L649.5 331.4 L650 337.5 L650.5 335.4 L651 332.9 L651.5 331.1 L652 328 L652.5 326 L653 324.4 L653.5 323 L654 319.8 L654.5 319.2 L655 318.1 L655.5 319.2 L656 317 L656.5 315.7 L657 317 L657.5 315.7 L658 315.7 L658.5 316.9 L659 315.1 L659.5 318.3 L660 317 L660.5 316.2 L661 314.8 L661.5 315.3 L662 315.7 L662.5 316 L663 315.4 L663.5 317.4 L664 318.4 L664.5 320.2 L665 323.2 L665.5 324 L666 326.6 L666.5 328.2 L667 330.4 L667.5 334.5 L668 336 L668.5 337.9 L669 336.8 L669.5 336.2 L670 337.5 L670.5 336.2 L671 332.4 L671.5 329.4 L672 328 L672.5 326 L673 327.5 L673.5 327 L674 325.2 L674.5 324.3 L675 322.4 L675.5 321.4 L676 319.8 L676.5 317.5 L677 318.7 L677.5 315.3 L678 314.4 L678.5 312.5 L679 309.6 L679.5 313.1 L680 314.4 L680.5 318.2 L681 319.7 L681.5 321.8 L682 325.2 L682.5 327.8 L683 328.7 L683.5 333.5 L684 334.8 L684.5 333.3 L685 333.9 L685.5 330.9 L686 330.7 L686.5 329.3 L687 327.8 L687.5 327.4 L688 326.6" fill="none" stroke="#1a1a1a" stroke-width="1.2" stroke-linejoin="round"/>

<!-- purple callout -->
<rect x="738.6" y="92.6" width="179.4" height="95.6" fill="#fff" stroke="#6c2c9c" stroke-width="1.8"/>
<text x="750.00" y="120.40" font-size="23" font-weight="bold" textLength="103.79" lengthAdjust="spacingAndGlyphs" stroke="#000" stroke-width="0.5">Without</text>
<text x="748.86" y="148.20" font-size="23" textLength="132.20" lengthAdjust="spacingAndGlyphs" stroke="#000" stroke-width="0.25">Continuous</text>
<text x="748.86" y="177.00" font-size="23" textLength="125.85" lengthAdjust="spacingAndGlyphs" stroke="#000" stroke-width="0.25">Calibration</text>
<path d="M738.4 150.8 L604 229.5" stroke="#7030a0" stroke-width="3.8" fill="none"/>
<path d="M595.3 234.9 L602.4 223.5 L609 234.3 Z" fill="#7030a0"/>

<!-- black callout -->
<rect x="739.3" y="351.6" width="179" height="95" fill="#fff" stroke="#000" stroke-width="1.6"/>
<text x="750.70" y="380.20" font-size="23" font-weight="bold" textLength="60.68" lengthAdjust="spacingAndGlyphs" stroke="#000" stroke-width="0.5">With</text>
<text x="749.57" y="407.60" font-size="23" textLength="131.70" lengthAdjust="spacingAndGlyphs" stroke="#000" stroke-width="0.25">Continuous</text>
<text x="749.55" y="436.30" font-size="23" textLength="126.05" lengthAdjust="spacingAndGlyphs" stroke="#000" stroke-width="0.25">Calibration</text>
<path d="M738.4 381.6 L688 356" stroke="#000" stroke-width="3.5" fill="none"/>
<path d="M679.6 351.5 L687.8 362.4 L693.3 353.7 Z" fill="#000"/>

<!-- bullets -->
<g fill="#ff0000">
<circle cx="235.3" cy="506.9" r="4.2"/>
<circle cx="235.3" cy="534.6" r="4.2"/>
<circle cx="235.3" cy="562.3" r="4.2"/>
</g>
<g fill="#000">
<text x="251.30" y="514.00" font-size="23" textLength="76.53" lengthAdjust="spacingAndGlyphs" stroke="#000" stroke-width="0.25">0.24%</text>
<text x="337.70" y="514.00" font-size="23" textLength="46.17" lengthAdjust="spacingAndGlyphs" stroke="#000" stroke-width="0.25">drift</text>
<text x="395.20" y="514.00" font-size="23" font-weight="bold" textLength="127.56" lengthAdjust="spacingAndGlyphs" stroke="#000" stroke-width="0.5">WITHOUT</text>
<text x="531.87" y="514.00" font-size="23" textLength="109.82" lengthAdjust="spacingAndGlyphs" stroke="#000" stroke-width="0.25">reference</text>
<text x="651.30" y="514.00" font-size="23" textLength="67.55" lengthAdjust="spacingAndGlyphs" stroke="#000" stroke-width="0.25">signal</text>
<text x="251.30" y="541.50" font-size="23" font-weight="bold" textLength="86.50" lengthAdjust="spacingAndGlyphs" fill="#0a720a" stroke="#0a720a" stroke-width="0.5">0.04%</text>
<text x="347.00" y="541.50" font-size="23" textLength="46.66" lengthAdjust="spacingAndGlyphs" stroke="#000" stroke-width="0.25">drift</text>
<text x="404.80" y="541.50" font-size="23" font-weight="bold" textLength="73.26" lengthAdjust="spacingAndGlyphs" stroke="#000" stroke-width="0.5">WITH</text>
<text x="486.26" y="541.50" font-size="23" textLength="110.84" lengthAdjust="spacingAndGlyphs" stroke="#000" stroke-width="0.25">reference</text>
<text x="606.00" y="541.50" font-size="23" textLength="67.65" lengthAdjust="spacingAndGlyphs" stroke="#000" stroke-width="0.25">signal</text>
<text x="251.50" y="570.10" font-size="23" textLength="25.57" lengthAdjust="spacingAndGlyphs" stroke="#000" stroke-width="0.25">5x</text>
<text x="287.40" y="570.10" font-size="23" textLength="90.11" lengthAdjust="spacingAndGlyphs" stroke="#000" stroke-width="0.25">stability</text>
<text x="387.43" y="570.10" font-size="23" textLength="155.36" lengthAdjust="spacingAndGlyphs" stroke="#000" stroke-width="0.25">improvement</text>
</g>
</svg>
</body></html>
